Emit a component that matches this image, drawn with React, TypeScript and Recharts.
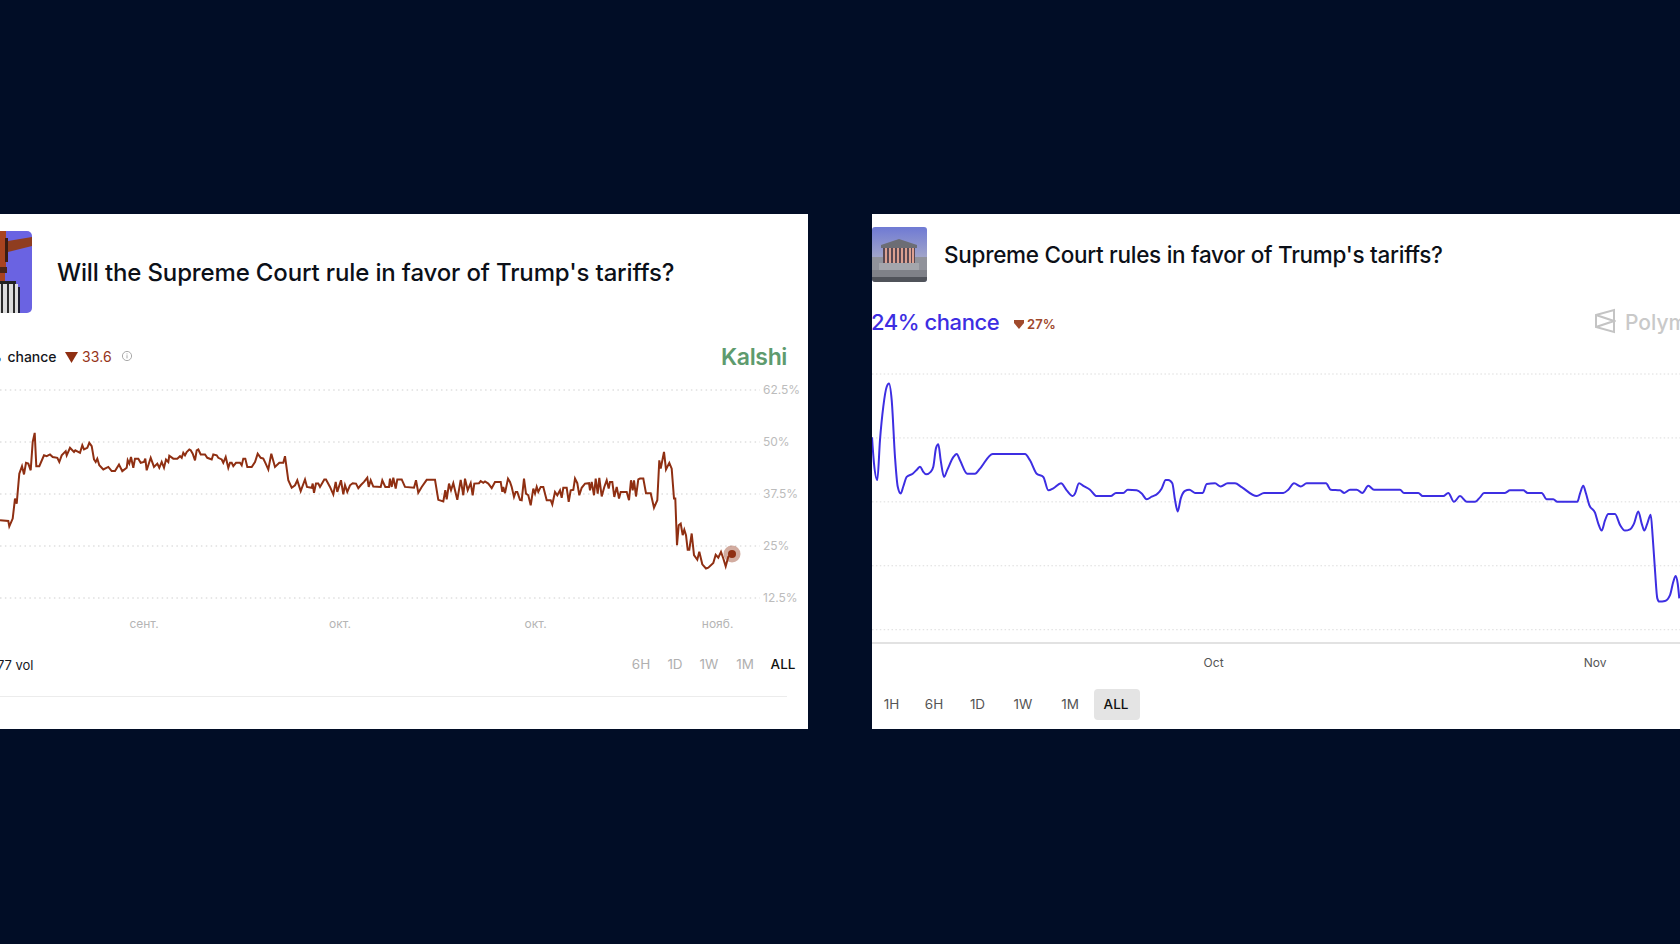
import React from "react";
import { LineChart, Line, XAxis, YAxis, CartesianGrid, ReferenceDot } from "recharts";

const PAGE_BG = "#010d26";
const FONT = "Inter, 'Noto Sans', sans-serif";

const kalshiTitle = "Will the Supreme Court rule in favor of Trump's tariffs?";
const polyTitle = "Supreme Court rules in favor of Trump's tariffs?";

const kalshiTicks = [12.5, 25, 37.5, 50, 62.5];
const kalshiMonthPos = [144, 340, 535.6, 717.6];
const kalshiMonthLabels = ["сент.", "окт.", "окт.", "нояб."];
const kalshiRanges = ["6H", "1D", "1W", "1M", "ALL"];

const polyTicks = [10, 20, 30, 40, 50];
const polyMonthPos = [341.6, 723];
const polyMonthLabels = ["Oct", "Nov"];
const polyRanges = ["1H", "6H", "1D", "1W", "1M", "ALL"];

const kalshiT = [
  0, 8.3, 9.3, 12.7, 15, 16.7, 19.3, 22, 24, 26, 28.3, 30.7, 32.7, 34.7, 36.3, 39.3, 44, 46.7, 50, 52.7,
  57.3, 59.3, 61.7, 65.7, 66.7, 70, 74, 75.3, 80, 82.3, 84, 87.3, 89.3, 91.7, 94, 95.7, 97.3, 99.3, 103.3, 108.3,
  111.7, 115, 119, 122.3, 126.7, 127.7, 129.3, 131, 133.3, 135, 138.3, 140.7, 144, 145.3, 146.7, 150.7, 154, 157.3, 159.3, 161.7,
  164, 166, 168.3, 169.3, 173.3, 177.3, 180, 181.7, 183.3, 185, 186.7, 189.3, 190.7, 192.7, 195, 196.7, 198.3, 200.7, 205, 207.3,
  211.7, 213.3, 216.7, 218.3, 221.7, 223.3, 225.7, 228.3, 230, 231.7, 233.3, 236, 240, 241.7, 243.3, 245.3, 247.3, 251.7, 255, 257.7,
  260.7, 263.3, 265.7, 268.3, 271.3, 275, 279.3, 283.3, 285, 288.3, 291.7, 295, 297.3, 300.7, 305, 307, 311.7, 312.7, 314, 316,
  318.3, 320, 324.3, 326, 330, 333.3, 335.7, 337.3, 341, 343.3, 345, 347.3, 350, 352.7, 356, 358.3, 360.7, 364, 367.3, 368.7,
  370.7, 373.3, 380.7, 382.3, 385.3, 389, 390, 391.7, 393.3, 395.7, 397.3, 401.7, 405, 414, 416, 418.3, 421.7, 426.7, 435, 438.3,
  443.3, 445.3, 446.7, 449, 451, 453.3, 457.3, 460.7, 463.3, 465, 467.7, 470.7, 472.7, 474.3, 479, 480.7, 483.3, 485, 488.3, 491.7,
  495, 500.7, 502.3, 503.3, 505, 508, 510, 511.7, 514, 515.7, 517.3, 520, 521.7, 524, 526, 528.3, 530.7, 533.3, 535, 536.7,
  538.3, 540.7, 543.3, 546.7, 550.7, 552.3, 555, 557.3, 560, 561.7, 563.3, 566.7, 568.7, 570.7, 573.3, 575, 577.3, 579.3, 581.7, 585,
  589, 590, 591.7, 594, 595.7, 597.7, 599.3, 601.7, 604.3, 606.7, 608.7, 610, 612.3, 614.3, 616.7, 619, 620.7, 626.7, 629, 631,
  632.7, 634, 636, 638.3, 640, 643.3, 646, 650.7, 654, 657.3, 659.3, 660.7, 664, 666, 669.3, 671.7, 674, 675.3, 677, 678.7,
  680.7, 682.7, 684.3, 686, 687.7, 689.3, 691.7, 694, 697.3, 699.3, 702.3, 706, 708.3, 713.3, 715.7, 718.3, 721, 723.3, 725.7, 728.3,
  732,
];
const kalshiV = [
  31.2, 31, 29.7, 31.6, 36.4, 35.2, 42.4, 44.2, 42.2, 45, 44.8, 43.2, 50, 52.2, 44.2, 44.2, 46.8, 46.6, 47, 46.4,
  46.2, 45.2, 46.8, 47.8, 46.8, 48.6, 47.6, 48, 47.4, 49.2, 48.2, 48.6, 49.8, 49, 45.8, 45.2, 46, 44.4, 43.4, 44,
  43, 43, 44.6, 43, 43.8, 45.6, 44.8, 46.4, 43.8, 46, 46, 45, 45.2, 46, 43.2, 46.2, 44, 44.8, 43.8, 45.2,
  43.8, 45.8, 45.2, 46.7, 46, 46, 46.6, 46.2, 47.4, 46.8, 47.6, 48.2, 48, 47.2, 45.6, 48, 48.2, 47, 47, 46.2,
  45.8, 47, 46.8, 46.2, 45.8, 45, 46.4, 43.8, 45, 45, 44.2, 45, 45, 44.4, 46, 46, 44, 44, 45.2, 47.2,
  46.2, 46, 44.8, 43.4, 47.2, 44, 45, 45, 46.6, 40.8, 39, 39.6, 40.8, 38.2, 41, 39.2, 39, 40, 37.8, 40,
  40, 39.2, 41, 41, 39.2, 37.4, 40.4, 38, 40.8, 37.4, 39.6, 38, 39.6, 40.1, 40, 38.9, 39.6, 40.4, 41.4, 39.2,
  40.8, 39.3, 39.2, 40.8, 39.2, 39.2, 41.2, 39.2, 41.4, 38.8, 41, 41, 39.2, 39, 40.8, 37.8, 39.2, 40.9, 40.9, 36.1,
  35.7, 38.4, 36.2, 40, 38.4, 40.1, 36.1, 40.9, 37.2, 41.2, 38.4, 40.1, 37.2, 40, 40.1, 40.6, 40.2, 40.5, 40, 38.9,
  40.4, 40.4, 38, 39.2, 37.7, 41.2, 40.4, 39.2, 36.8, 38, 38, 36.1, 36, 41.2, 37.6, 37.2, 34.8, 38.8, 37.6, 39.2,
  38, 39.2, 39.2, 36, 36, 35, 38, 37.2, 38.4, 36.6, 39, 39, 35.6, 38.4, 38.5, 41.2, 40.1, 37.2, 39, 40,
  40.1, 38.4, 40.4, 37.2, 41.2, 37.6, 41.4, 36.9, 39.2, 40.8, 38.8, 40.4, 40.4, 36.8, 39.2, 36.4, 38, 38, 36, 40.8,
  38.4, 40.8, 36.9, 41, 41.2, 41.2, 37.7, 37.7, 34.2, 36, 45.6, 43.6, 47.6, 43.4, 45, 43.6, 36.4, 36.4, 25.2, 30,
  30.4, 27.6, 28.9, 27.6, 24.1, 24.1, 28, 22.8, 21.7, 23.6, 20.6, 19.6, 19.8, 20.9, 22.9, 22.2, 23.6, 22, 20.1, 22.4,
  23.1,
];

const polyT = [
  0, 2, 5.3, 8, 11.3, 14.7, 17, 19.7, 23, 25.7, 28.7, 31.3, 34.7, 40.7, 45.3, 48, 51.3, 54, 58.7, 61.3,
  64, 66.3, 68.7, 72, 75.3, 81.3, 84.7, 88, 95.3, 103, 108, 120.7, 153, 158, 164.7, 171.3, 176.3, 181.3, 189, 194.7,
  200.7, 203, 207, 211.3, 218, 224.7, 238.7, 244, 251.3, 255.7, 264.7, 269.7, 274.7, 279.7, 285.7, 289.7, 293.7, 296.3, 300.3, 303,
  305.7, 308.7, 313, 317.3, 323, 330.7, 334.7, 343, 348.7, 355.7, 363, 369.7, 384.7, 392, 411.3, 416.3, 422, 428.7, 434.7, 454,
  458.7, 468, 472.3, 478, 484.7, 490.3, 496.3, 502, 528, 532, 546.3, 550.7, 571.3, 576.3, 582, 588, 594.7, 603, 608, 612,
  633, 638, 651.3, 655.7, 669.7, 674.7, 681.3, 685.3, 705.3, 708, 711.3, 714, 717.3, 723, 726.3, 729.7, 733, 736.3, 743, 748,
  753, 758, 762, 766.3, 769.7, 772.3, 775.3, 778.7, 780.7, 783, 785.3, 787.3, 793, 798, 801.3, 803.7, 805.7, 807.3,
];
const polyV = [
  40.1, 36, 33.4, 39.7, 44.9, 48, 48.5, 45.9, 37, 32.4, 31.3, 32.4, 33.9, 34.4, 35.1, 35.5, 34.7, 34.3, 34.7, 35.5,
  38.4, 39, 36.5, 33.9, 35, 37, 37.5, 36.5, 34.4, 34.4, 35.2, 37.5, 37.5, 36.5, 34.4, 33.9, 31.8, 32.1, 32.9, 31.8,
  30.9, 31.3, 32.9, 32.5, 31.9, 30.9, 30.9, 31.4, 31.4, 31.9, 31.8, 31.3, 30.4, 30.8, 31.3, 32.1, 33.4, 33.4, 32.9, 30.3,
  28.5, 30.5, 31.7, 31.9, 31.4, 31.4, 32.8, 32.9, 32.4, 32.9, 32.9, 32.3, 30.9, 31.4, 31.4, 31.9, 32.9, 32.4, 32.9, 32.9,
  31.9, 31.8, 31.4, 31.9, 31.9, 31.4, 32.5, 31.9, 31.9, 31.4, 31.4, 30.9, 30.9, 31.4, 30, 30.9, 30, 30, 30.7, 31.4,
  31.4, 31.8, 31.8, 31.4, 31.4, 30.4, 30.4, 30, 30, 31.3, 32.5, 31.3, 29.5, 28.3, 26.6, 25.5, 27.1, 28.1, 28.1, 26.4,
  25.5, 25.7, 26.6, 28.5, 26.6, 25.5, 26.6, 28, 24.5, 19.3, 14.9, 14.4, 14.5, 15.4, 17.5, 18.4, 17.2, 14.9,
];

const kalshiData = kalshiT.map((t, i) => ({ t, v: kalshiV[i] }));
const polyData = polyT.map((t, i) => ({ t, v: polyV[i] }));
const kalshiLast = kalshiData[kalshiData.length - 1];

function Txt({ x, y, size, color, weight = 400, anchor = "left", children, spacing = 0 }: any) {
  const tx = anchor === "center" ? "translate(-50%,-50%)" : anchor === "right" ? "translate(-100%,-50%)" : "translateY(-50%)";
  return (
    <div style={{ position: "absolute", left: x, top: y, transform: tx, fontSize: size, color, fontWeight: weight, whiteSpace: "nowrap", lineHeight: 1, letterSpacing: spacing }}>
      {children}
    </div>
  );
}

function GavelIcon() {
  return (
    <svg style={{ position: "absolute", left: 0, top: 231 }} width={32} height={82}>
      <defs><clipPath id="gv"><path d="M-8 0H27a5 5 0 0 1 5 5V77a5 5 0 0 1-5 5H-8Z" /></clipPath></defs>
      <g clipPath="url(#gv)">
        <rect x={-8} y={0} width={40} height={82} fill="#6a63e2" />
        <rect x={-8} y={0} width={14} height={40} fill="#a8431f" />
        <rect x={5} y={7} width={3} height={24} fill="#3a1c12" />
        <path d="M8 10L32 6V15L8 21Z" fill="#8f3d20" />
        <rect x={-4} y={36} width={11} height={6} fill="#4a2415" />
        <rect x={-4} y={42} width={9} height={8} fill="#a8431f" />
        <rect x={-8} y={50} width={24} height={3} fill="#222" />
        <rect x={-8} y={53} width={26} height={29} fill="#dcdcdc" />
        {[1, 7, 13].map((x) => <rect key={x} x={x} y={53} width={2} height={29} fill="#2a2a2a" />)}
        <rect x={18} y={56} width={2} height={26} fill="#1c1c30" />
      </g>
    </svg>
  );
}

function CourtIcon() {
  return (
    <svg style={{ position: "absolute", left: 872, top: 227 }} width={55} height={55}>
      <defs>
        <linearGradient id="sky" x1="0" y1="0" x2="0" y2="1">
          <stop offset="0" stopColor="#6f7ad4" />
          <stop offset="0.6" stopColor="#a5a8c8" />
        </linearGradient>
        <clipPath id="ct"><rect width={55} height={55} rx={3} /></clipPath>
      </defs>
      <g clipPath="url(#ct)">
        <rect width={55} height={55} fill="url(#sky)" />
        <rect y={30} width={55} height={22} fill="#90929a" />
        <path d="M9 18L27 12L45 18V21H9Z" fill="#6c6d74" />
        <rect x={11} y={21} width={32} height={15} fill="#584852" />
        {[13, 17, 21, 25, 29, 33, 37, 40].map((x) => <rect key={x} x={x} y={21} width={2} height={15} fill="#dca090" />)}
        <rect x={7} y={36} width={40} height={7} fill="#a4a6ac" />
        <rect y={43} width={55} height={7} fill="#7f8188" />
        <rect y={50} width={55} height={5} fill="#50535a" />
      </g>
    </svg>
  );
}

function KalshiChart() {
  return (
    <div style={{ position: "absolute", left: 0, top: 380 }}>
      <LineChart width={808} height={258} data={kalshiData} margin={{ top: 10, right: 0, bottom: 0, left: 0 }}>
        <CartesianGrid vertical={false} stroke="#cfcfcf" strokeDasharray="1.5 3.4" />
        <XAxis
          dataKey="t"
          type="number"
          domain={[0, 760]}
          allowDataOverflow
          ticks={kalshiMonthPos}
          tickFormatter={(_: number, i: number) => kalshiMonthLabels[i]}
          axisLine={false}
          tickLine={false}
          height={40}
          interval={0}
          tickMargin={15}
          tick={{ fontSize: 12, fill: "#b5b5b5", fontFamily: FONT }}
        />
        <YAxis
          orientation="right"
          width={48}
          domain={[12.5, 62.5]}
          ticks={kalshiTicks}
          tickFormatter={(v: number) => `${v}%`}
          axisLine={false}
          tickLine={false}
          tickSize={0}
          tickMargin={3}
          interval={0}
          tick={{ fontSize: 12, fill: "#bcbcbc", fontFamily: FONT }}
        />
        <Line dataKey="v" type="linear" stroke="#8f2f12" strokeWidth={2} dot={false} isAnimationActive={false} />
        <ReferenceDot x={kalshiLast.t} y={kalshiLast.v} r={8.5} fill="#8f2f12" fillOpacity={0.4} stroke="none" />
        <ReferenceDot x={kalshiLast.t} y={kalshiLast.v} r={4} fill="#8f2f12" stroke="none" />
      </LineChart>
    </div>
  );
}

function PolyChart() {
  return (
    <div style={{ position: "absolute", left: 872, top: 364 }}>
      <LineChart width={808} height={319} data={polyData} margin={{ top: 10, right: 0, bottom: 0, left: 0 }}>
        <CartesianGrid vertical={false} stroke="#dcdcdc" strokeDasharray="1.5 2.4" horizontalValues={polyTicks} />
        <XAxis
          dataKey="t"
          type="number"
          domain={[0, 808]}
          allowDataOverflow
          ticks={polyMonthPos}
          tickFormatter={(_: number, i: number) => polyMonthLabels[i]}
          axisLine={{ stroke: "#e2e2e2", strokeWidth: 2 }}
          tickLine={false}
          height={40}
          interval={0}
          tickMargin={9}
          tick={{ fontSize: 12, fill: "#555", fontFamily: FONT }}
        />
        <YAxis hide domain={[7.92, 50]} ticks={polyTicks} allowDataOverflow />
        <Line dataKey="v" type="monotone" stroke="#3d2ee2" strokeWidth={2} dot={false} isAnimationActive={false} />
      </LineChart>
    </div>
  );
}

const kalshiRangeX = [641, 675, 709, 745, 783];
const polyRangeX = [891.5, 934, 977.5, 1023, 1070, 1116];

export default function App() {
  return (
    <div style={{ position: "fixed", left: 0, top: 0, width: 1680, height: 944, background: PAGE_BG, overflow: "hidden", fontFamily: FONT }}>
      <div style={{ position: "absolute", left: 0, top: 214, width: 808, height: 515, background: "#fff" }} />
      <div style={{ position: "absolute", left: 872, top: 214, width: 808, height: 515, background: "#fff" }} />

      <GavelIcon />
      <Txt x={57} y={272.5} size={24} weight={500} color="#0c1018" spacing={-0.14}>{kalshiTitle}</Txt>
      <Txt x={2} y={357} size={14} weight={500} color="#111" anchor="right">%</Txt>
      <Txt x={7.5} y={356.5} size={14} weight={500} color="#14161c" spacing={-0.05}>chance</Txt>
      <svg style={{ position: "absolute", left: 65, top: 352 }} width={13} height={11}>
        <path d="M0 0H13L6.5 11Z" fill="#8f2f12" />
      </svg>
      <Txt x={82} y={356.5} size={14} color="#96351a" spacing={0.1}>33.6</Txt>
      <svg style={{ position: "absolute", left: 121, top: 350 }} width={12} height={12}>
        <circle cx={6} cy={6} r={4.6} fill="none" stroke="#aaa" strokeWidth={1} />
        <rect x={5.5} y={5.2} width={1} height={3.2} fill="#aaa" />
        <rect x={5.5} y={3.4} width={1} height={1} fill="#aaa" />
      </svg>
      <Txt x={721} y={357} size={23} weight={600} color="#5e9b6e" spacing={-0.35}>Kalshi</Txt>
      <KalshiChart />
      <Txt x={33.5} y={664.5} size={13} weight={400} color="#16181e" anchor="right">77 vol</Txt>
      {kalshiRanges.map((r, i) => (
        <Txt key={r} x={kalshiRangeX[i]} y={664.5} size={13.5} weight={r === "ALL" ? 500 : 400} color={r === "ALL" ? "#111" : "#b0b0b0"} anchor="center">{r}</Txt>
      ))}
      <div style={{ position: "absolute", left: 0, top: 696, width: 787, height: 1, background: "#ececec" }} />

      <CourtIcon />
      <Txt x={944} y={255} size={22.5} weight={500} color="#0c1018" spacing={-0.28}>{polyTitle}</Txt>
      <Txt x={871} y={322} size={22} weight={500} color="#3d2ee2" spacing={-0.45}>24% chance</Txt>
      <svg style={{ position: "absolute", left: 1014, top: 320 }} width={10} height={9}>
        <path d="M0 0H10V3L5 9L0 3Z" fill="#a04a2c" />
      </svg>
      <Txt x={1027} y={323.5} size={13} weight={600} color="#a0482c" spacing={0.1}>27%</Txt>
      <svg style={{ position: "absolute", left: 1594, top: 308 }} width={22} height={26}>
        <path d="M2 7L20 2V24L2 19ZM2 7L20 13L2 19" fill="none" stroke="#c4c4c4" strokeWidth={2} />
      </svg>
      <Txt x={1625} y={322} size={21} weight={500} color="#c9c9c9">Polymarket</Txt>
      <PolyChart />
      <div style={{ position: "absolute", left: 1094, top: 689, width: 46, height: 31, borderRadius: 4, background: "#e4e4e4" }} />
      {polyRanges.map((r, i) => (
        <Txt key={r} x={polyRangeX[i]} y={704.5} size={13.5} weight={r === "ALL" ? 500 : 400} color={r === "ALL" ? "#111" : "#555"} anchor="center">{r}</Txt>
      ))}
    </div>
  );
}
